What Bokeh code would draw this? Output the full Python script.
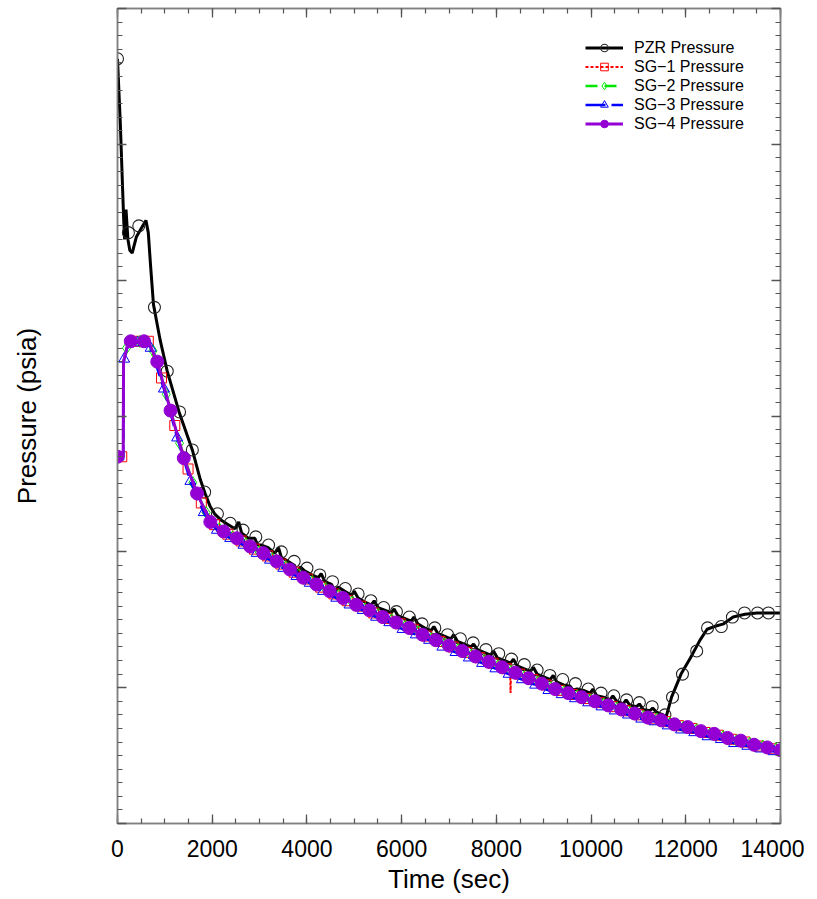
from bokeh.plotting import figure
from bokeh.models import (Range1d, LinearAxis, FixedTicker, CustomJSTickFormatter,
                          Legend, LegendItem)
from bokeh.embed import file_html
from bokeh.resources import INLINE

# ---------------- data ----------------
x_ticks = [0, 2000, 4000, 6000, 8000, 10000, 12000, 14000]
x_minor = list(range(0, 14001, 500))
y_ticks = [0, 1, 2, 3, 4, 5, 6]
y_minor = [i / 10 for i in range(0, 61)]

# PZR pressure line
pzr_t = [0, 60, 130, 150, 180, 220, 260, 310, 400, 500,
         600, 650, 700, 760, 900, 1050, 1300, 1580, 1750, 1850,
         1950, 2050, 2200, 2340, 2480, 2560, 2620, 2760, 2900, 2960,
         3040, 3180, 3320, 3400, 3460, 3600, 3740, 3800, 3860, 3950,
         4100, 4240, 4300, 4380, 4520, 4600, 4660, 4800, 4940, 5000,
         5080, 5220, 5360, 5420, 5500, 5640, 5780, 5840, 5920, 6060,
         6200, 6260, 6340, 6480, 6620, 6680, 6760, 6900, 7040, 7100,
         7180, 7320, 7460, 7520, 7600, 7740, 7880, 7940, 8020, 8160,
         8300, 8360, 8440, 8580, 8720, 8780, 8860, 9000, 9140, 9200,
         9280, 9420, 9560, 9620, 9700, 9840, 9980, 10040, 10120, 10260,
         10400, 10460, 10540, 10680, 10740, 10820, 10960, 11020, 11100, 11240,
         11300, 11380, 11520, 11580, 11700, 11900, 12100, 12300, 12450, 12600,
         12800, 13000, 13250, 13500, 13750, 14000]
pzr_v = [5.63, 5.15, 4.45, 4.30, 4.52, 4.30, 4.22, 4.20, 4.32, 4.38,
         4.44, 4.35, 4.10, 3.82, 3.56, 3.33, 3.03, 2.75, 2.53, 2.43,
         2.34, 2.28, 2.23, 2.20, 2.17, 2.22, 2.14, 2.10, 2.10, 2.05,
         2.05, 2.03, 1.99, 2.03, 1.96, 1.93, 1.90, 1.84, 1.89, 1.86,
         1.83, 1.81, 1.84, 1.78, 1.76, 1.71, 1.74, 1.71, 1.68, 1.71,
         1.66, 1.63, 1.61, 1.64, 1.59, 1.57, 1.55, 1.58, 1.53, 1.51,
         1.49, 1.52, 1.47, 1.44, 1.42, 1.45, 1.40, 1.38, 1.36, 1.39,
         1.34, 1.32, 1.30, 1.32, 1.28, 1.26, 1.24, 1.27, 1.22, 1.20,
         1.18, 1.21, 1.16, 1.14, 1.12, 1.15, 1.10, 1.08, 1.06, 1.09,
         1.04, 1.02, 1.01, 0.98, 0.99, 0.98, 0.96, 0.99, 0.94, 0.93,
         0.91, 0.94, 0.90, 0.88, 0.91, 0.87, 0.86, 0.88, 0.84, 0.83,
         0.85, 0.82, 0.80, 0.78, 0.93, 1.10, 1.22, 1.35, 1.43, 1.45,
         1.47, 1.52, 1.54, 1.55, 1.55, 1.55]
# PZR marker samples
pzr_mk_t = [0, 230, 450, 780, 1050, 1310, 1580, 1840, 2110, 2380,
            2650, 2920, 3190, 3460, 3730, 4000, 4270, 4540, 4810, 5080,
            5350, 5620, 5890, 6160, 6430, 6700, 6970, 7240, 7510, 7780,
            8050, 8320, 8590, 8860, 9130, 9400, 9670, 9940, 10210, 10480,
            10750, 11020, 11290, 11560, 11720, 11930, 12230, 12460, 12750, 12985,
            13240, 13515, 13745]
pzr_mk_v = [5.63, 4.35, 4.40, 3.80, 3.33, 3.03, 2.75, 2.44, 2.28, 2.21,
            2.16, 2.11, 2.05, 2.00, 1.93, 1.88, 1.83, 1.78, 1.73, 1.69,
            1.64, 1.59, 1.56, 1.52, 1.47, 1.44, 1.39, 1.36, 1.33, 1.28,
            1.25, 1.21, 1.17, 1.13, 1.09, 1.06, 1.03, 0.99, 0.96, 0.94,
            0.91, 0.89, 0.86, 0.80, 0.93, 1.10, 1.27, 1.44, 1.45, 1.52,
            1.55, 1.55, 1.55]

# SG-1 pressure (marker samples + extra line points)
sg1_t = list(range(90, 14000, 280))
sg1_v = [2.70, 3.55, 3.55, 3.28, 2.93, 2.61, 2.36, 2.20, 2.13, 2.08,
         2.02, 1.97, 1.91, 1.85, 1.80, 1.74, 1.69, 1.64, 1.60, 1.55,
         1.51, 1.47, 1.43, 1.38, 1.34, 1.30, 1.26, 1.22, 1.18, 1.14,
         1.10, 1.06, 1.02, 0.98, 0.95, 0.92, 0.89, 0.86, 0.83, 0.80,
         0.77, 0.75, 0.72, 0.70, 0.67, 0.65, 0.62, 0.60, 0.57, 0.55]
sg1_xt = [0, 120, 128, 230, 8290, 8300, 8310, 14000]
sg1_xv = [2.70, 2.70, 3.40, 3.55, 1.13, 0.96, 1.13, 0.54]

# SG-2 pressure
sg2_t = list(range(190, 14000, 280))
sg2_v = [3.50, 3.55, 3.48, 3.16, 2.80, 2.51, 2.29, 2.17, 2.11, 2.06,
         2.00, 1.95, 1.89, 1.83, 1.78, 1.73, 1.68, 1.63, 1.58, 1.54,
         1.50, 1.45, 1.41, 1.36, 1.32, 1.28, 1.24, 1.20, 1.16, 1.12,
         1.08, 1.04, 1.00, 0.97, 0.94, 0.91, 0.88, 0.85, 0.82, 0.79,
         0.77, 0.74, 0.71, 0.69, 0.66, 0.64, 0.61, 0.59, 0.57, 0.55]
sg2_xt = [0, 120, 128, 650, 14000]
sg2_xv = [2.70, 2.70, 3.40, 3.55, 0.54]

# SG-3 pressure
sg3_t = list(range(140, 14000, 280))
sg3_v = [3.42, 3.54, 3.50, 3.20, 2.84, 2.52, 2.29, 2.16, 2.10, 2.05,
         1.99, 1.94, 1.88, 1.82, 1.77, 1.71, 1.66, 1.61, 1.57, 1.52,
         1.48, 1.43, 1.39, 1.35, 1.30, 1.26, 1.22, 1.18, 1.14, 1.10,
         1.06, 1.02, 0.98, 0.95, 0.92, 0.89, 0.86, 0.83, 0.80, 0.77,
         0.75, 0.72, 0.69, 0.67, 0.64, 0.62, 0.59, 0.57, 0.55, 0.53]
sg3_xt = [0, 120, 128, 230, 650, 14000]
sg3_xv = [2.68, 2.68, 3.35, 3.53, 3.53, 0.53]

# SG-4 pressure
sg4_t = list(range(0, 14001, 280))
sg4_v = [2.70, 3.55, 3.55, 3.40, 3.04, 2.69, 2.43, 2.22, 2.15, 2.10,
         2.04, 1.99, 1.93, 1.87, 1.81, 1.76, 1.71, 1.66, 1.61, 1.57,
         1.52, 1.48, 1.44, 1.39, 1.35, 1.31, 1.27, 1.23, 1.19, 1.15,
         1.11, 1.07, 1.03, 0.99, 0.96, 0.93, 0.90, 0.87, 0.84, 0.81,
         0.78, 0.76, 0.73, 0.71, 0.68, 0.66, 0.63, 0.61, 0.58, 0.56,
         0.54]
sg4_xt = [120, 128, 230, 650]
sg4_xv = [2.70, 3.40, 3.55, 3.55]

labels = ["PZR Pressure", "SG\u22121 Pressure", "SG\u22122 Pressure",
          "SG\u22123 Pressure", "SG\u22124 Pressure"]


def merged(t, v, xt, xv):
    pts = sorted(zip(list(t) + list(xt), list(v) + list(xv)))
    return [a for a, _ in pts], [b for _, b in pts]


FONT = "Liberation Sans"

p = figure(frame_width=663, frame_height=815, output_backend="svg",
           toolbar_location=None, x_range=Range1d(0, 14000), y_range=Range1d(0, 6),
           min_border_left=117, min_border_right=24, min_border_top=8,
           min_border_bottom=0, background_fill_color="white",
           border_fill_color="white")
p.outline_line_color = "#808080"
p.outline_line_width = 1.5
p.xgrid.grid_line_color = None
p.ygrid.grid_line_color = None

blank = CustomJSTickFormatter(code="return ''")


def style_axis(ax):
    ax.axis_line_color = "#808080"
    ax.axis_line_width = 1.5
    ax.major_tick_in = 9
    ax.major_tick_out = 0
    ax.minor_tick_in = 5
    ax.minor_tick_out = 0
    ax.major_tick_line_color = "#555555"
    ax.minor_tick_line_color = "#555555"
    ax.major_tick_line_width = 1.3
    ax.minor_tick_line_width = 1.2
    ax.major_label_text_font = FONT
    ax.major_label_text_font_size = "23px"
    ax.major_label_text_color = "black"
    ax.axis_label_text_font = FONT
    ax.axis_label_text_font_size = "26px"
    ax.axis_label_text_font_style = "normal"
    ax.axis_label_text_color = "black"


xb = p.xaxis[0]
xb.ticker = FixedTicker(ticks=x_ticks, minor_ticks=x_minor)
xb.axis_label = "Time (sec)"
style_axis(xb)
xb.major_label_standoff = 16
xb.axis_label_standoff = 4

yl = p.yaxis[0]
yl.ticker = FixedTicker(ticks=y_ticks, minor_ticks=y_minor)
yl.formatter = blank
yl.axis_label = "Pressure (psia)"
style_axis(yl)
yl.axis_label_standoff = 76

xt_ax = LinearAxis(ticker=FixedTicker(ticks=x_ticks, minor_ticks=x_minor), formatter=blank)
style_axis(xt_ax)
p.add_layout(xt_ax, "above")
yr_ax = LinearAxis(ticker=FixedTicker(ticks=y_ticks, minor_ticks=y_minor), formatter=blank)
style_axis(yr_ax)
p.add_layout(yr_ax, "right")

items = []

# PZR
l0 = p.line(pzr_t, pzr_v, line_color="black", line_width=3)
m0 = p.scatter(pzr_mk_t, pzr_mk_v, marker="circle", size=12, fill_color=None,
               line_color="#222222", line_width=1.1)
items.append(LegendItem(label=labels[0], renderers=[l0, m0]))

# SG-1
t1, v1 = merged(sg1_t, sg1_v, sg1_xt, sg1_xv)
l1 = p.line(t1, v1, line_color="#ff0000", line_width=2, line_dash="3 2")
m1 = p.scatter(sg1_t, sg1_v, marker="square", size=10, fill_color=None,
               line_color="#ff0000", line_width=1)
items.append(LegendItem(label=labels[1], renderers=[l1, m1]))

# SG-2
t2, v2 = merged(sg2_t, sg2_v, sg2_xt, sg2_xv)
l2 = p.line(t2, v2, line_color="#00e600", line_width=2.5, line_dash="12 7")
m2 = p.scatter(sg2_t, sg2_v, marker="diamond", size=12, fill_color=None,
               line_color="#00e600", line_width=1)
items.append(LegendItem(label=labels[2], renderers=[l2, m2]))

# SG-3
t3, v3 = merged(sg3_t, sg3_v, sg3_xt, sg3_xv)
l3 = p.line(t3, v3, line_color="#0000ff", line_width=2.5, line_dash="20 6")
m3 = p.scatter(sg3_t, sg3_v, marker="triangle", size=11, fill_color=None,
               line_color="#0000ff", line_width=1)
items.append(LegendItem(label=labels[3], renderers=[l3, m3]))

# SG-4
t4, v4 = merged(sg4_t, sg4_v, sg4_xt, sg4_xv)
l4 = p.line(t4, v4, line_color="#9400d3", line_width=3)
m4 = p.scatter(sg4_t, sg4_v, marker="circle", size=13, fill_color="#9400d3",
               line_color="#9400d3", line_width=1)
items.append(LegendItem(label=labels[4], renderers=[l4, m4]))

legend = Legend(items=items, location=(468, 690))
legend.border_line_color = None
legend.background_fill_alpha = 0
legend.padding = 0
legend.margin = 0
legend.spacing = 0
legend.glyph_width = 38
legend.glyph_height = 19
legend.label_height = 19
legend.label_standoff = 11
legend.label_text_font = FONT
legend.label_text_font_size = "16px"
legend.label_text_color = "black"
p.add_layout(legend)

open("out.html", "w").write(file_html(p, INLINE))
